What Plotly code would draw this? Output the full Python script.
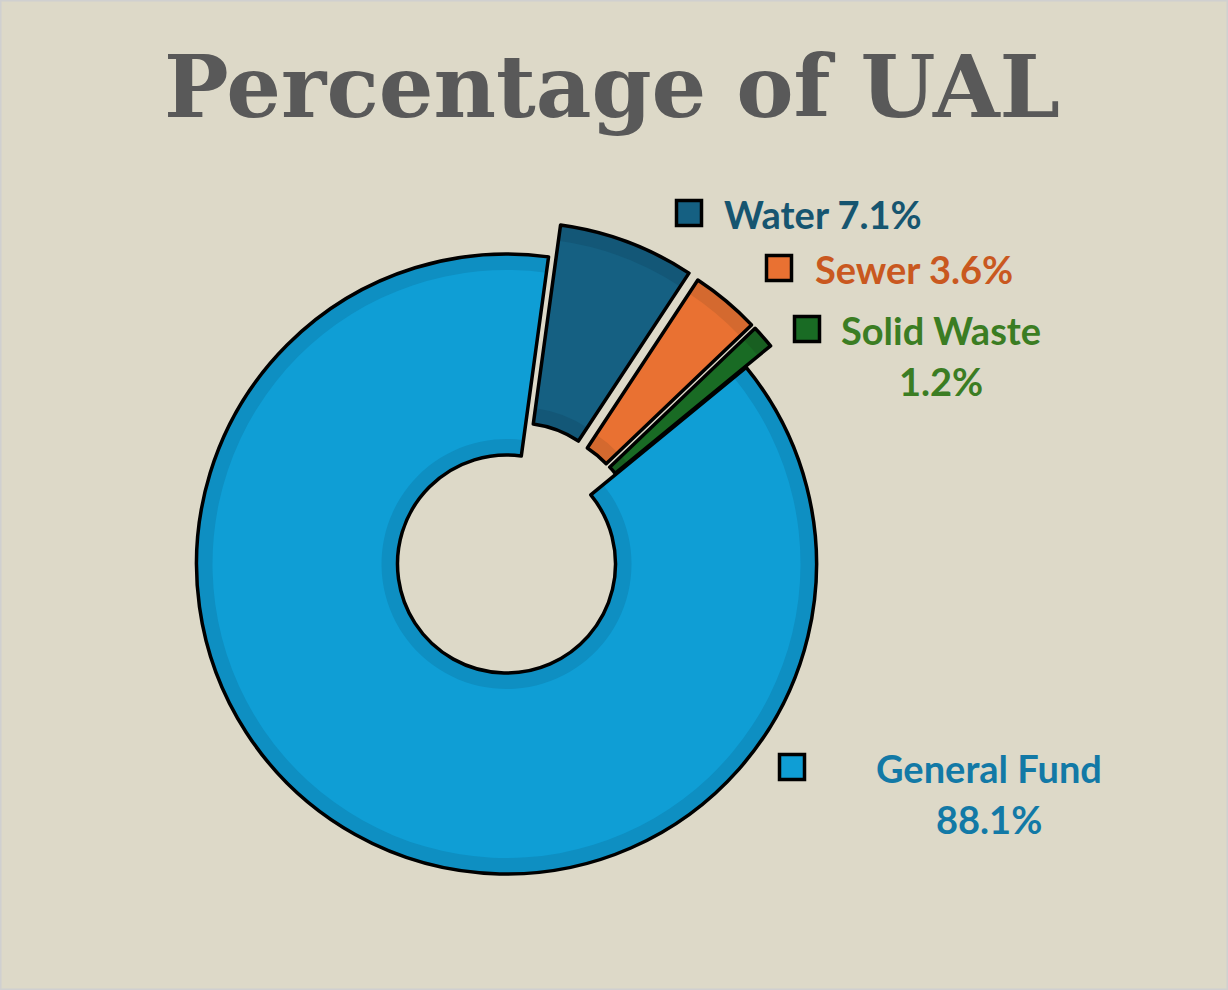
import plotly.graph_objects as go

### Data ###
funds = ["Water", "Sewer", "Solid Waste", "General Fund"]
pct_ual = [7.1, 3.6, 1.2, 88.1]
slice_colors = ["#156082", "#E97132", "#196B24", "#0F9ED5"]
band_colors = ["#135777", "#D4692F", "#185F21", "#0E8FC2"]
label_colors = ["#165570", "#C9581F", "#3B7D23", "#1279A6"]
pulled = [0.11, 0.105, 0.105, 0]

W, H = 1228, 990
BG = "#DDD9C8"

# pie geometry in pixels (centre, outer radius, hole radius, inner band width)
CX, CY = 506.5, 564
R_OUT, R_HOLE = 310, 109
BAND = 16


def px_x(x):
    return x / W


def px_y(y):
    return 1 - y / H


def pie_domain(r, max_pull):
    # plotly sizes the pie as box / (2 + 2 * max pull)
    half = r * (1 + max_pull)
    return dict(x=[px_x(CX - half), px_x(CX + half)], y=[px_y(CY + half), px_y(CY - half)])


def pie_trace(r, hole, pulls, colors, line_w, line_c="black"):
    return go.Pie(
        labels=funds,
        values=pct_ual,
        sort=False,
        direction="clockwise",
        rotation=7.8,
        hole=hole,
        pull=pulls,
        textinfo="none",
        hoverinfo="label+percent",
        marker=dict(colors=colors, line=dict(color=line_c, width=line_w)),
        domain=pie_domain(r, max(pulls)),
        showlegend=False,
    )


fig = go.Figure()

# darker outer band of each slice
fig.add_trace(pie_trace(R_OUT, R_HOLE / R_OUT, pulled, band_colors, 0))
# lighter inner fill, inset from the arcs
r_in = R_OUT - BAND
pull_px = [p * R_OUT for p in pulled]
fig.add_trace(pie_trace(r_in, (R_HOLE + BAND) / r_in, [p / r_in for p in pull_px],
                        slice_colors, 0))
# black outlines on top
fig.add_trace(pie_trace(R_OUT, R_HOLE / R_OUT, pulled,
                        ["rgba(0,0,0,0)"] * len(funds), 3.5))

# legend keys and labels next to the slices
# (key centre x, key centre y, text x, text y of first line, anchor)
label_spots = [
    (689, 213, 722, 214, "left"),
    (779, 268, 813, 269, "left"),
    (807, 329, 941, 330, "center"),
    (792, 767, 989, 768, "center"),
]

annotations = [dict(
    text="Percentage of UAL", x=px_x(612), y=px_y(86), xref="paper", yref="paper",
    xanchor="center", yanchor="middle", showarrow=False,
    font=dict(family="DejaVu Serif", size=86, color="#595959", weight="bold"),
)]
shapes = []
for i, (kx, ky, tx, ty, anchor) in enumerate(label_spots):
    shapes.append(dict(
        type="rect", xref="paper", yref="paper",
        x0=px_x(kx - 12.5), x1=px_x(kx + 12.5), y0=px_y(ky + 12.5), y1=px_y(ky - 12.5),
        fillcolor=slice_colors[i], line=dict(color="black", width=3.5),
    ))
    pct_txt = f"{pct_ual[i]:.1f}%"
    if anchor == "left":
        lines = [f"{funds[i]} {pct_txt}"]
    else:
        lines = [funds[i], pct_txt]
    for j, line in enumerate(lines):
        annotations.append(dict(
            text=line, x=px_x(tx), y=px_y(ty + j * 51), xref="paper", yref="paper",
            xanchor=anchor, yanchor="middle", showarrow=False,
            font=dict(family="Lato", size=38, color=label_colors[i], weight="bold"),
        ))

# thin chart border
shapes.append(dict(type="rect", xref="paper", yref="paper", x0=0, x1=1, y0=0, y1=1,
                   line=dict(color="#D0D0D0", width=3), fillcolor="rgba(0,0,0,0)"))

fig.update_layout(
    width=W, height=H,
    margin=dict(l=0, r=0, t=0, b=0),
    paper_bgcolor=BG, plot_bgcolor=BG,
    annotations=annotations,
    shapes=shapes,
)

fig.write_html("out.html", config={"displayModeBar": False},
               post_script="document.body.style.margin='0';")
